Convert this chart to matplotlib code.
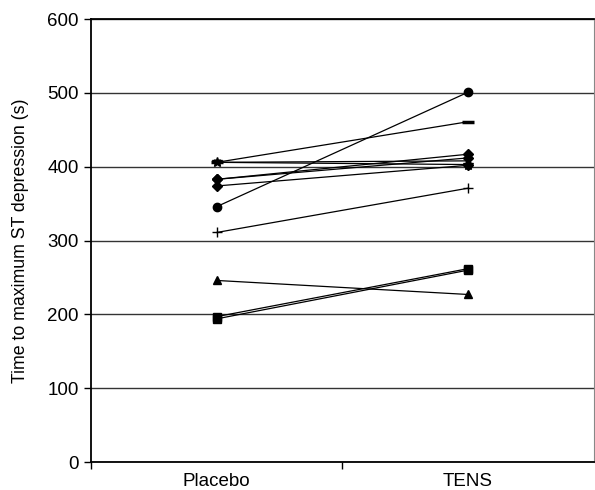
import matplotlib
matplotlib.use("Agg")
import matplotlib.pyplot as plt

plt.rcParams['font.family'] = ['Liberation Sans', 'DejaVu Sans']

categories = ["Placebo", "TENS"]

# one pair of values per patient (placebo, TENS), marker as in the figure
patients = [
    ("D", [383, 417]),
    ("D", [383, 412]),
    ("D", [374, 402]),
    ("s", [197, 262]),
    ("s", [194, 260]),
    ("^", [246, 227]),
    ("x", [406, 408]),
    ("*", [406, 403]),
    ("o", [346, 501]),
    ("+", [311, 371]),
    ("_", [406, 461]),
]

msize = {"D": 5.5, "s": 6, "^": 6, "x": 5, "*": 7, "o": 6, "+": 7, "_": 9}

fig = plt.figure(figsize=(5.95, 4.9), dpi=100)
ax = fig.add_axes([0.153, 0.057, 0.845, 0.904])

xs = range(len(categories))
for m, vals in patients:
    mew = 2.5 if m == "_" else 1.0
    ax.plot(xs, vals, color="black", linewidth=0.9, marker=m,
            markersize=msize[m], markeredgewidth=mew, markerfacecolor="black",
            markeredgecolor="black", clip_on=False, zorder=3)

ax.set_xlim(-0.5, 1.5)
ax.set_ylim(0, 600)
ax.set_yticks(range(0, 601, 100))
ax.yaxis.grid(True, color="#333333", linewidth=1.0)
ax.set_axisbelow(True)

ax.set_xticks(list(xs))
ax.set_xticklabels(categories, fontsize=13.5)
ax.set_xticks([-0.5, 0.5], minor=True)
ax.tick_params(axis="x", which="major", length=0, pad=8)
ax.tick_params(axis="x", which="minor", length=5, width=1, direction="out")
ax.tick_params(axis="y", length=5, width=1, direction="out", labelsize=13.5, pad=4)

ax.set_ylabel("Time to maximum ST depression (s)", fontsize=12.8, labelpad=13)

for side in ["left", "bottom", "top"]:
    ax.spines[side].set_color("black")
    ax.spines[side].set_linewidth(1.3)
ax.spines["right"].set_color("#888888")
ax.spines["right"].set_linewidth(0.8)

fig.savefig("out.png", dpi=100)
